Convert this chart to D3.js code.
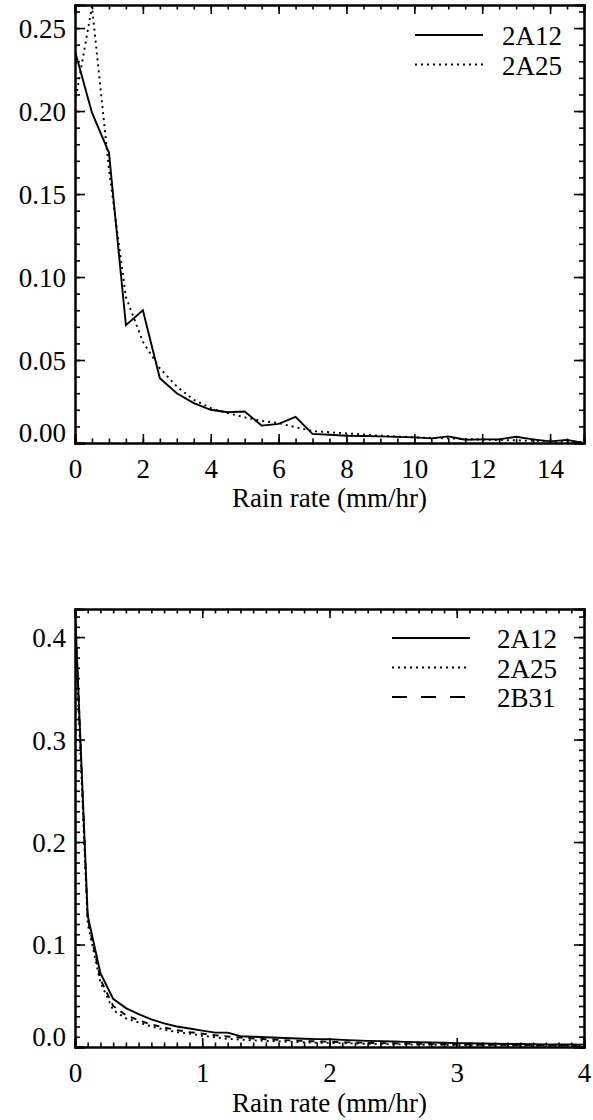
<!DOCTYPE html>
<html lang="en">
  <head>
    <meta charset="UTF-8" />
    <title>Rain rate distributions</title>
    <style type="text/css">
      body { margin: 0; background: #fff; }
      text { font-family: "Liberation Serif", "DejaVu Serif", serif !important; }
    </style>
  </head>
  <body>
    <div id="chart"></div>
    <script src="https://d3js.org/d3.v7.min.js"></script>
    <script>
      // ---- data ----
      // upper panel, rain rate bins (mm/hr)
      var topRate = [0, 0.5, 1, 1.5, 2, 2.5, 3, 3.5, 4, 4.5, 5, 5.5, 6, 6.5, 7, 7.5,
        8, 8.5, 9, 9.5, 10, 10.5, 11, 11.5, 12, 12.5, 13, 13.5, 14, 14.5, 15];
      var top2A12 = [0.236, 0.199, 0.175, 0.071, 0.080, 0.039, 0.030, 0.024, 0.020, 0.0185,
        0.019, 0.0105, 0.0115, 0.0157, 0.0055, 0.005, 0.0044, 0.0042, 0.004, 0.0037,
        0.0034, 0.0028, 0.0040, 0.002, 0.0022, 0.0022, 0.0038, 0.0022, 0.001, 0.0019, 0.0];
      var top2A25 = [0.205, 0.263, 0.165, 0.088, 0.061, 0.045, 0.034, 0.026, 0.021, 0.018,
        0.0155, 0.0133, 0.012, 0.0095, 0.0072, 0.0065, 0.0058, 0.0051, 0.0044, 0.0039,
        0.0034, 0.0031, 0.0028, 0.0024, 0.002, 0.0018, 0.0016, 0.0013, 0.001, 0.0008, 0.0006];

      // lower panel
      var botRate = [0, 0.1, 0.2, 0.3, 0.4, 0.5, 0.6, 0.7, 0.8, 0.9, 1.0, 1.1, 1.2, 1.3,
        1.4, 1.5, 1.6, 1.7, 1.8, 1.9, 2.0, 2.1, 2.2, 2.3, 2.4, 2.5, 2.6, 2.7, 2.8, 2.9,
        3.0, 3.1, 3.2, 3.3, 3.4, 3.5, 3.6, 3.7, 3.8, 3.9, 4.0];
      var bot2A12 = [0.427, 0.128, 0.072, 0.047, 0.038, 0.032, 0.027, 0.023, 0.020, 0.018,
        0.016, 0.014, 0.014, 0.0105, 0.010, 0.0095, 0.009, 0.0085, 0.008, 0.0077, 0.0075,
        0.007, 0.0065, 0.006, 0.0057, 0.0053, 0.005, 0.0047, 0.0044, 0.0041, 0.0038,
        0.0036, 0.0034, 0.0032, 0.003, 0.0029, 0.0027, 0.0026, 0.0025, 0.0024, 0.0023];
      var bot2A25 = [0.41, 0.120, 0.063, 0.036, 0.028, 0.024, 0.020, 0.017, 0.0145, 0.013,
        0.011, 0.0095, 0.008, 0.0072, 0.0065, 0.006, 0.0055, 0.005, 0.0046, 0.0042, 0.004,
        0.0037, 0.0034, 0.0031, 0.0029, 0.0027, 0.0025, 0.0023, 0.0021, 0.002, 0.0019,
        0.0017, 0.0016, 0.0015, 0.0014, 0.0013, 0.0012, 0.0012, 0.0011, 0.001, 0.001];
      var bot2B31 = [0.425, 0.125, 0.066, 0.040, 0.031, 0.026, 0.022, 0.019, 0.0165, 0.0145,
        0.013, 0.0115, 0.0103, 0.0092, 0.0083, 0.0076, 0.007, 0.0064, 0.0059, 0.0055,
        0.0051, 0.0047, 0.0044, 0.0041, 0.0038, 0.0035, 0.0033, 0.0031, 0.0029, 0.0027,
        0.0025, 0.0024, 0.0022, 0.0021, 0.002, 0.0019, 0.0018, 0.0017, 0.0016, 0.0015, 0.0015];

      // tick values
      var topXTicks = [0, 2, 4, 6, 8, 10, 12, 14];
      var topYTicks = [0, 0.05, 0.1, 0.15, 0.2, 0.25];
      var botXTicks = [0, 1, 2, 3, 4];
      var botYTicks = [0, 0.1, 0.2, 0.3, 0.4];

      var W = 593, H = 1120;
      var left = 75, right = 584;
      var FONT = "Liberation Serif, DejaVu Serif, serif";

      var svg = d3
        .select("#chart")
        .append("svg")
        .attr("width", W)
        .attr("height", H)
        .style("background", "#fff");

      var styles = {
        solid: null,
        dotted: "2,4",
        dashed: "6,6",
      };
      var legendDash = {
        solid: null,
        dotted: "2,4",
        dashed: "15,14",
      };

      function drawPanel(p) {
        var x = d3.scaleLinear().domain(p.xDomain).range([left, right]);
        var y = d3.scaleLinear().domain(p.yDomain).range([p.bottom, p.top]);
        var g = svg.append("g");

        // minor ticks
        var xMinor = d3.range(p.xDomain[0], p.xDomain[1] + 1e-9, p.xMinorStep);
        var yMinor = d3.range(0, p.yDomain[1], p.yMinorStep);

        g.append("g")
          .attr("transform", "translate(0," + p.bottom + ")")
          .call(d3.axisBottom(x).tickValues(xMinor).tickSize(-4.5).tickFormat(""));
        g.append("g")
          .attr("transform", "translate(0," + p.top + ")")
          .call(d3.axisTop(x).tickValues(xMinor).tickSize(-4.5).tickFormat(""));
        g.append("g")
          .attr("transform", "translate(" + left + ",0)")
          .call(d3.axisLeft(y).tickValues(yMinor).tickSize(-5).tickFormat(""));
        g.append("g")
          .attr("transform", "translate(" + right + ",0)")
          .call(d3.axisRight(y).tickValues(yMinor).tickSize(-5).tickFormat(""));

        // major ticks
        g.append("g")
          .attr("transform", "translate(0," + p.bottom + ")")
          .call(d3.axisBottom(x).tickValues(p.xTicks).tickSize(-9).tickFormat(d3.format("d")))
          .selectAll("text")
          .attr("y", 35)
          .attr("dy", 0);
        g.append("g")
          .attr("transform", "translate(0," + p.top + ")")
          .call(d3.axisTop(x).tickValues(p.xTicks).tickSize(-9).tickFormat(""));
        g.append("g")
          .attr("transform", "translate(" + left + ",0)")
          .call(d3.axisLeft(y).tickValues(p.yTicks).tickSize(-10).tickFormat(d3.format(p.yFormat)))
          .selectAll("text")
          .attr("x", -9)
          .attr("dy", "0.35em")
          .attr("transform", function (d) {
            // lowest label sits a little above the bottom axis
            return d === 0 ? "translate(0,-11)" : null;
          });
        g.append("g")
          .attr("transform", "translate(" + right + ",0)")
          .call(d3.axisRight(y).tickValues(p.yTicks).tickSize(-10).tickFormat(""));

        g.selectAll("g").attr("font-family", null).attr("font-size", null);
        g.selectAll(".domain").attr("stroke", "#000").attr("stroke-width", 2);
        g.selectAll(".tick line").attr("stroke", "#000").attr("stroke-width", 1.6);
        g.selectAll(".tick text")
          .attr("fill", "#000")
          .style("font-family", FONT)
          .style("font-size", "27px");

        // x title
        g.append("text")
          .attr("x", (left + right) / 2)
          .attr("y", p.bottom + p.titleOffset)
          .attr("text-anchor", "middle")
          .style("font-family", FONT)
          .style("font-size", "27px")
          .text("Rain rate (mm/hr)");

        // clip
        var clipId = "clip" + p.top;
        svg.append("clipPath")
          .attr("id", clipId)
          .append("rect")
          .attr("x", left)
          .attr("y", p.top)
          .attr("width", right - left)
          .attr("height", p.bottom - p.top);

        var line = d3.line()
          .x(function (d) { return x(d[0]); })
          .y(function (d) { return y(d[1]); });

        p.series.forEach(function (s) {
          var pts = p.rate.map(function (r, i) { return [r, s.values[i]]; });
          g.append("path")
            .attr("clip-path", "url(#" + clipId + ")")
            .attr("d", line(pts))
            .attr("fill", "none")
            .attr("stroke", "#000")
            .attr("stroke-width", 1.9)
            .attr("stroke-dasharray", styles[s.style]);
        });

        // legend
        p.series.forEach(function (s, i) {
          var ly = p.legend.y + i * 29.5;
          g.append("line")
            .attr("x1", p.legend.x1)
            .attr("x2", p.legend.x2)
            .attr("y1", ly)
            .attr("y2", ly)
            .attr("stroke", "#000")
            .attr("stroke-width", 1.9)
            .attr("stroke-dasharray", legendDash[s.style]);
          g.append("text")
            .attr("x", p.legend.tx)
            .attr("y", ly + 10)
            .style("font-family", FONT)
            .style("font-size", "27px")
            .text(s.name);
        });
      }

      drawPanel({
        top: 5,
        bottom: 443,
        xDomain: [0, 15],
        yDomain: [0, 0.2639],
        xTicks: topXTicks,
        yTicks: topYTicks,
        xMinorStep: 0.5,
        yMinorStep: 0.01,
        yFormat: ".2f",
        titleOffset: 64,
        rate: topRate,
        series: [
          { name: "2A12", values: top2A12, style: "solid" },
          { name: "2A25", values: top2A25, style: "dotted" },
        ],
        legend: { x1: 415, x2: 483, tx: 502, y: 35 },
      });

      drawPanel({
        top: 609,
        bottom: 1047,
        xDomain: [0, 4],
        yDomain: [0, 0.4274],
        xTicks: botXTicks,
        yTicks: botYTicks,
        xMinorStep: 0.1,
        yMinorStep: 0.01,
        yFormat: ".1f",
        titleOffset: 65,
        rate: botRate,
        series: [
          { name: "2A12", values: bot2A12, style: "solid" },
          { name: "2A25", values: bot2A25, style: "dotted" },
          { name: "2B31", values: bot2B31, style: "dashed" },
        ],
        legend: { x1: 392, x2: 470, tx: 497, y: 638 },
      });
    </script>
  </body>
</html>
